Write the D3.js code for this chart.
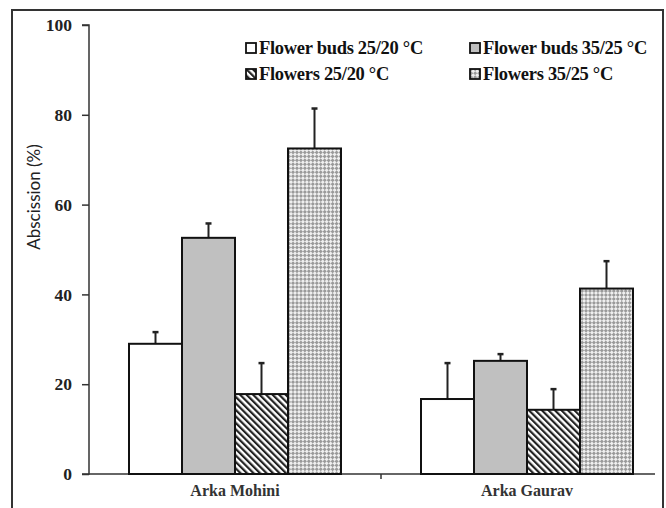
<!DOCTYPE html>
<html><head><meta charset="utf-8">
<script src="https://cdn.jsdelivr.net/npm/d3@7"></script>
<style>body{margin:0;background:#fff}svg{display:block}</style>
</head><body>
<script>
const categories = ["Arka Mohini", "Arka Gaurav"];
const seriesNames = ["Flower buds 25/20 °C", "Flower buds 35/25 °C", "Flowers 25/20 °C", "Flowers 35/25 °C"];
const budsLow = [29.0, 16.7];
const budsHigh = [52.6, 25.2];
const flowersLow = [17.8, 14.3];
const flowersHigh = [72.5, 41.3];
const errBudsLow = [2.6, 8.0];
const errBudsHigh = [3.2, 1.5];
const errFlowersLow = [6.9, 4.6];
const errFlowersHigh = [8.9, 6.1];
const yTicks = [0, 20, 40, 60, 80, 100];

const series = [
  {name: seriesNames[0], values: budsLow, err: errBudsLow, fill: "#ffffff"},
  {name: seriesNames[1], values: budsHigh, err: errBudsHigh, fill: "#c0c0c0"},
  {name: seriesNames[2], values: flowersLow, err: errFlowersLow, fill: "url(#hatch)"},
  {name: seriesNames[3], values: flowersHigh, err: errFlowersHigh, fill: "url(#check)"}
];

const W = 666, H = 508;
const svg = d3.select("body").append("svg").attr("width", W).attr("height", H);

const defs = svg.append("defs");
const hatch = defs.append("pattern").attr("id", "hatch").attr("patternUnits", "userSpaceOnUse")
  .attr("width", 4.6).attr("height", 4.6).attr("patternTransform", "rotate(-45)");
hatch.append("rect").attr("width", 4.6).attr("height", 4.6).attr("fill", "#fff");
hatch.append("rect").attr("x", 0).attr("width", 2.2).attr("height", 4.6).attr("fill", "#222");

const check = defs.append("pattern").attr("id", "check").attr("patternUnits", "userSpaceOnUse")
  .attr("width", 5.6).attr("height", 5.6).attr("patternTransform", "rotate(45)");
check.append("rect").attr("width", 5.6).attr("height", 5.6).attr("fill", "#efefef");
check.append("rect").attr("width", 2.8).attr("height", 2.8).attr("fill", "#9a9a9a");
check.append("rect").attr("x", 2.8).attr("y", 2.8).attr("width", 2.8).attr("height", 2.8).attr("fill", "#9a9a9a");

// outer frame
svg.append("rect").attr("x", 12).attr("y", 10).attr("width", 651).attr("height", 540)
  .attr("fill", "none").attr("stroke", "#333").attr("stroke-width", 2);

const x0 = 89, y0 = 474, y100 = 25;
const x = d3.scaleBand().domain(categories).range([x0, x0 + 584]);
const y = d3.scaleLinear().domain([0, 100]).range([y0, y100]);
const barW = 53;
const groupW = barW * 4;

// y axis
const yAxis = svg.append("g").attr("transform", `translate(${x0},0)`)
  .call(d3.axisLeft(y).tickValues(yTicks).tickSize(7).tickPadding(10).tickFormat(d3.format("d")));
yAxis.select(".domain").attr("stroke", "#333").attr("stroke-width", 1.5).attr("d", `M-7,${y(100)}H0V${y(0)}H-7`);
yAxis.selectAll(".tick line").attr("stroke", "#333").attr("stroke-width", 1.5);
yAxis.selectAll(".tick text").attr("font-family", "Liberation Serif").attr("font-weight", "bold")
  .attr("font-size", 17.5).attr("fill", "#222");

// x axis line
svg.append("line").attr("x1", x0).attr("x2", 655).attr("y1", y0).attr("y2", y0)
  .attr("stroke", "#333").attr("stroke-width", 1.5);
svg.append("line").attr("x1", x(categories[1])).attr("x2", x(categories[1]))
  .attr("y1", y0).attr("y2", y0 + 5).attr("stroke", "#333").attr("stroke-width", 1.5);

// category labels
svg.selectAll(".cat").data(categories).enter().append("text")
  .attr("x", d => x(d) + x.bandwidth() / 2).attr("y", 496)
  .attr("text-anchor", "middle").attr("font-family", "Liberation Serif").attr("font-weight", "bold")
  .attr("font-size", 16).attr("fill", "#333").text(d => d);

// y title
svg.append("text").attr("transform", `translate(40,197) rotate(-90)`).attr("text-anchor", "middle")
  .attr("font-family", "Lato").attr("font-size", 17).attr("fill", "#222").text("Abscission (%)");

// bars
series.forEach((s, si) => {
  const g = svg.append("g");
  categories.forEach((c, ci) => {
    const bx = x(c) + x.bandwidth() / 2 - groupW / 2 + si * barW;
    const v = s.values[ci];
    const e = s.err[ci];
    g.append("line").attr("x1", bx + barW / 2).attr("x2", bx + barW / 2)
      .attr("y1", y(v)).attr("y2", y(v + e)).attr("stroke", "#222").attr("stroke-width", 2);
    g.append("line").attr("x1", bx + barW / 2 - 3).attr("x2", bx + barW / 2 + 3)
      .attr("y1", y(v + e)).attr("y2", y(v + e)).attr("stroke", "#222").attr("stroke-width", 2.5);
    g.append("rect").attr("x", bx).attr("y", y(v)).attr("width", barW).attr("height", y(0) - y(v))
      .attr("fill", s.fill).attr("stroke", "#111").attr("stroke-width", 2);
  });
});

// legend
const legPos = [[246, 48], [470, 48], [246, 74], [470, 74]];
series.forEach((s, si) => {
  const [lx, ly] = legPos[si];
  svg.append("rect").attr("x", lx).attr("y", ly - 5).attr("width", 10).attr("height", 10)
    .attr("fill", s.fill).attr("stroke", "#111").attr("stroke-width", 1.8);
  svg.append("text").attr("x", lx + 13).attr("y", ly + 6).attr("font-family", "Liberation Serif")
    .attr("font-weight", "bold").attr("font-size", 18.5).attr("letter-spacing", -0.3).attr("fill", "#111").text(s.name);
});
</script>
</body></html>
